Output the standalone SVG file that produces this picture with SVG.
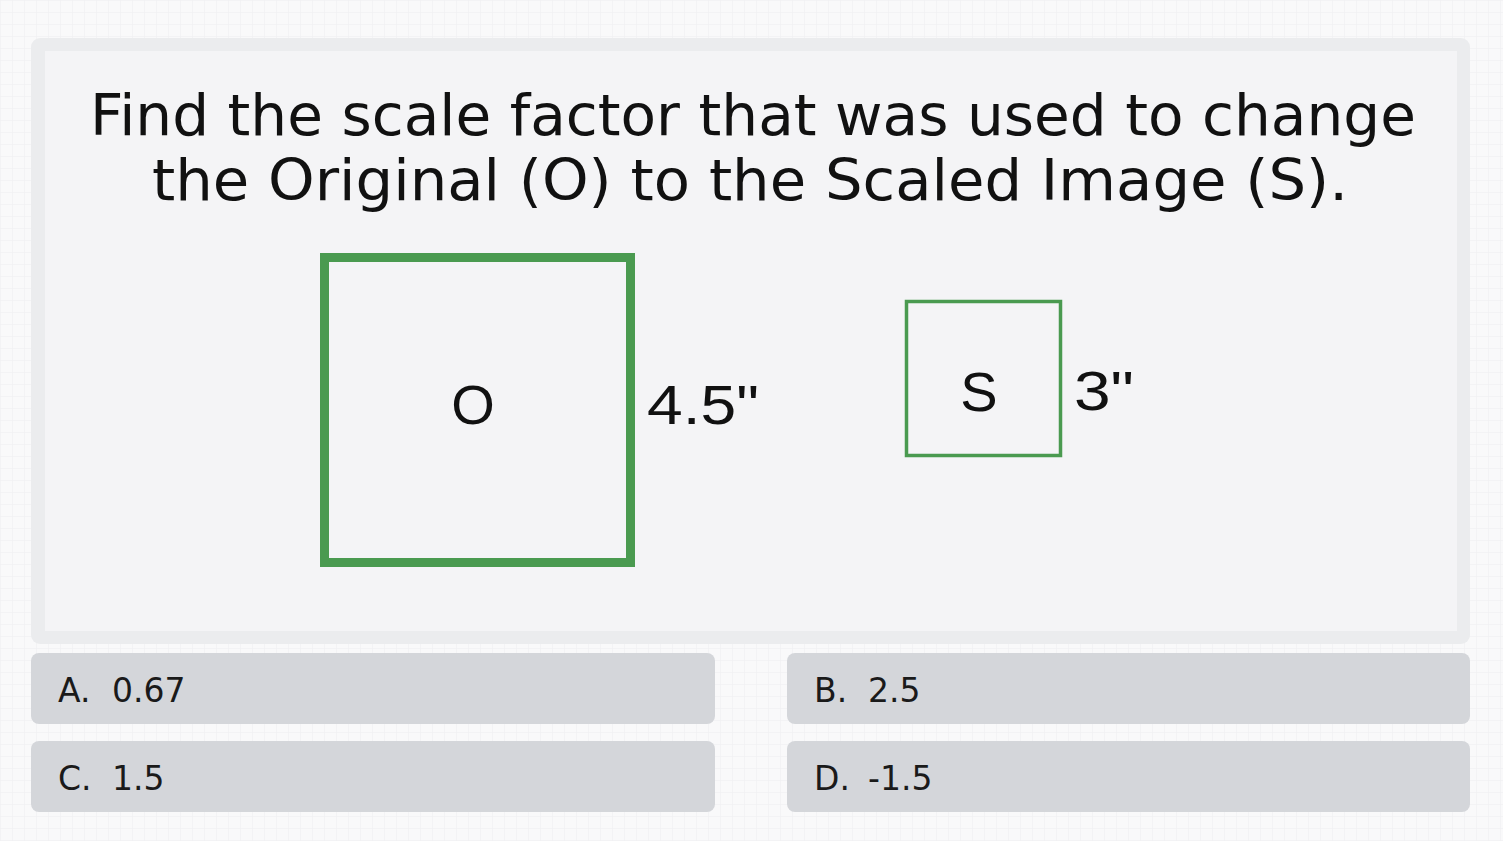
<svg xmlns="http://www.w3.org/2000/svg" width="1503" height="841" viewBox="0 0 1503 841">
<defs>
<pattern id="grid" width="12" height="12" patternUnits="userSpaceOnUse">
<path d="M12 0H0V12" fill="none" stroke="#eeeef0" stroke-width="1"/>
</pattern>
</defs>
<style>
.title{font-family:"DejaVu Sans","Noto Sans",sans-serif;font-size:57px;fill:#111;text-anchor:middle}
.lab{font-family:"Liberation Sans",Arial,sans-serif;font-size:56px;fill:#111}
.ans{font-family:"DejaVu Sans","Noto Sans",sans-serif;font-size:33px;fill:#1a1a1a}
.btn{fill:#d4d6da}
.sq{fill:none;stroke:#4a9a50}
</style>
<rect width="1503" height="841" fill="#f9f9fa"/>
<rect width="1503" height="841" fill="url(#grid)"/>
<g id="panel">
<rect x="31" y="38" width="1439" height="606" rx="9" fill="#ebecee"/>
<rect x="45" y="51" width="1412" height="580" fill="#f4f4f6"/>
</g>
<g id="title">
<text class="title" x="753" y="135" textLength="1326" lengthAdjust="spacingAndGlyphs">Find the scale factor that was used to change</text>
<text class="title" x="750" y="200" textLength="1196" lengthAdjust="spacingAndGlyphs">the Original (O) to the Scaled Image (S).</text>
</g>
<g id="original">
<rect class="sq" x="324.5" y="257.5" width="306" height="305" stroke-width="9"/>
<text class="lab" x="473" y="424" text-anchor="middle">O</text>
<text class="lab" x="647" y="424" textLength="112" lengthAdjust="spacingAndGlyphs">4.5"</text>
</g>
<g id="scaled">
<rect class="sq" x="906.5" y="301.5" width="154" height="154" stroke-width="3.5"/>
<text class="lab" x="979" y="411" text-anchor="middle">S</text>
<text class="lab" x="1074" y="410" textLength="60" lengthAdjust="spacingAndGlyphs">3"</text>
</g>
<g id="connectors"></g>
<g id="optA">
<rect class="btn" x="31" y="653" width="684" height="71" rx="8"/>
<text class="ans" y="702"><tspan x="58">A.</tspan><tspan x="112">0.67</tspan></text>
</g>
<g id="optB">
<rect class="btn" x="787" y="653" width="683" height="71" rx="8"/>
<text class="ans" y="702"><tspan x="814">B.</tspan><tspan x="868">2.5</tspan></text>
</g>
<g id="optC">
<rect class="btn" x="31" y="741" width="684" height="71" rx="8"/>
<text class="ans" y="790"><tspan x="58">C.</tspan><tspan x="112">1.5</tspan></text>
</g>
<g id="optD">
<rect class="btn" x="787" y="741" width="683" height="71" rx="8"/>
<text class="ans" y="790"><tspan x="814">D.</tspan><tspan x="868">-1.5</tspan></text>
</g>
</svg>
